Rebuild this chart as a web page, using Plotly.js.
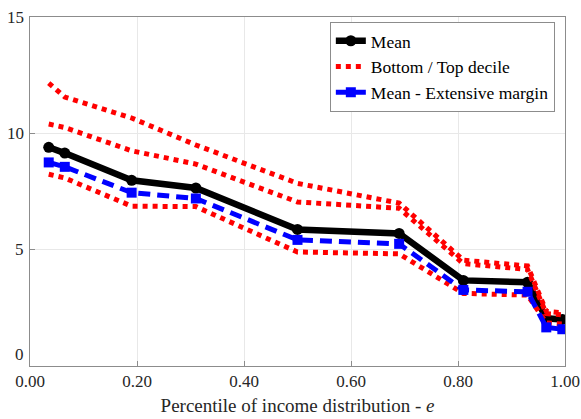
<!DOCTYPE html>
<html>
<head>
<meta charset="utf-8">
<script src="https://cdn.plot.ly/plotly-3.0.1.min.js"></script>
</head>
<body style="margin:0;background:#fff">
<div aria-hidden="true" style="position:absolute;left:-2000px;top:0;font-family:'Liberation Serif';font-size:17px">Percentile 0.20 <i>e</i></div>
<div id="chart" style="width:581px;height:419px"></div>
<script>
// Percentile positions of income distribution
const percentile = [0.035, 0.065, 0.19, 0.31, 0.50, 0.69, 0.81, 0.93, 0.965, 0.995];

// Series values
const meanVals     = [9.4, 9.15, 7.98, 7.65, 5.87, 5.70, 3.68, 3.60, 2.05, 2.00];
const extMargin    = [8.75, 8.56, 7.45, 7.20, 5.42, 5.25, 3.27, 3.19, 1.66, 1.58];
const topDecile    = [12.16, 11.56, 10.66, 9.50, 7.85, 7.00, 4.55, 4.30, 2.35, 2.28];
const upperBand    = [10.40, 10.25, 9.25, 8.68, 7.05, 6.78, 4.40, 4.15, 2.25, 2.20];
const bottomDecile = [8.24, 8.08, 6.87, 6.85, 4.90, 4.82, 3.12, 3.05, 1.85, 1.80];

// Axis ticks
const xTicks = [0, 0.2, 0.4, 0.6, 0.8, 1.0];
const xTickText = ['0.00', '0.20', '0.40', '0.60', '0.80', '1.00'];
const yTicks = [0, 5, 10, 15];
const yTickText = ['0', '5', '10', '15'];

const redLine = { color: '#ff0000', width: 5, dash: 'dot' };

const traces = [
  { x: percentile, y: meanVals, mode: 'lines+markers', name: 'Mean',
    line: { color: '#000000', width: 6.5 },
    marker: { symbol: 'circle', size: 11, color: '#000000' } },
  { x: percentile, y: topDecile, mode: 'lines', name: 'Bottom / Top decile',
    line: redLine, legendgroup: 'dec' },
  { x: percentile, y: upperBand, mode: 'lines', line: redLine,
    legendgroup: 'dec', showlegend: false },
  { x: percentile, y: bottomDecile, mode: 'lines', line: redLine,
    legendgroup: 'dec', showlegend: false },
  { x: percentile, y: extMargin, mode: 'lines+markers', name: 'Mean - Extensive margin',
    line: { color: '#0000ff', width: 5, dash: '12px,7px' },
    marker: { symbol: 'square', size: 10, color: '#0000ff' } }
];

const f1 = { family: 'Liberation Serif', size: 17, color: '#262626' };
const axisCommon = {
  showline: true, mirror: true, linecolor: '#8c8c8c', linewidth: 1,
  showgrid: true, gridcolor: '#e8e8e8', gridwidth: 1,
  ticks: 'inside', ticklen: 5, tickcolor: '#8c8c8c',
  zeroline: false, tickfont: f1
};

// y tick labels drawn as annotations so the bottom one can sit clear of the x labels
const yLabelAnnotations = yTicks.map((v, i) => ({
  x: 0, xref: 'paper', xanchor: 'right', xshift: -4,
  y: v, yref: 'y', yanchor: 'middle', yshift: v === 0 ? 12 : 0,
  text: yTickText[i], showarrow: false, font: f1
}));

const layout = {
  width: 581, height: 419,
  margin: { l: 30, r: 16, t: 17, b: 53 },
  paper_bgcolor: '#ffffff', plot_bgcolor: '#ffffff',
  font: f1,
  showlegend: true,
  xaxis: Object.assign({}, axisCommon, {
    range: [0, 1], tickvals: xTicks, ticktext: xTickText,
    title: { text: 'Percentile of income distribution - <i>e</i>',
             font: { family: 'Liberation Serif', size: 19, color: '#262626' }, standoff: 8 }
  }),
  yaxis: Object.assign({}, axisCommon, {
    range: [0, 15], tickvals: yTicks, showticklabels: false
  }),
  annotations: yLabelAnnotations,
  legend: {
    x: 0.981, y: 0.986, xanchor: 'right', yanchor: 'top',
    bgcolor: '#ffffff', bordercolor: '#8c8c8c', borderwidth: 1,
    font: { family: 'Liberation Serif', size: 17.5, color: '#000000' },
    traceorder: 'normal', itemwidth: 30, tracegroupgap: 0
  }
};

const config = { displayModeBar: false, staticPlot: true };

function draw() {
  return Plotly.newPlot('chart', traces, layout, config);
}

draw();
// redraw once the serif face is ready so text is measured and painted with it
if (document.fonts && document.fonts.load) {
  document.fonts.load('17px "Liberation Serif"').then(draw, draw);
}
</script>
</body>
</html>
